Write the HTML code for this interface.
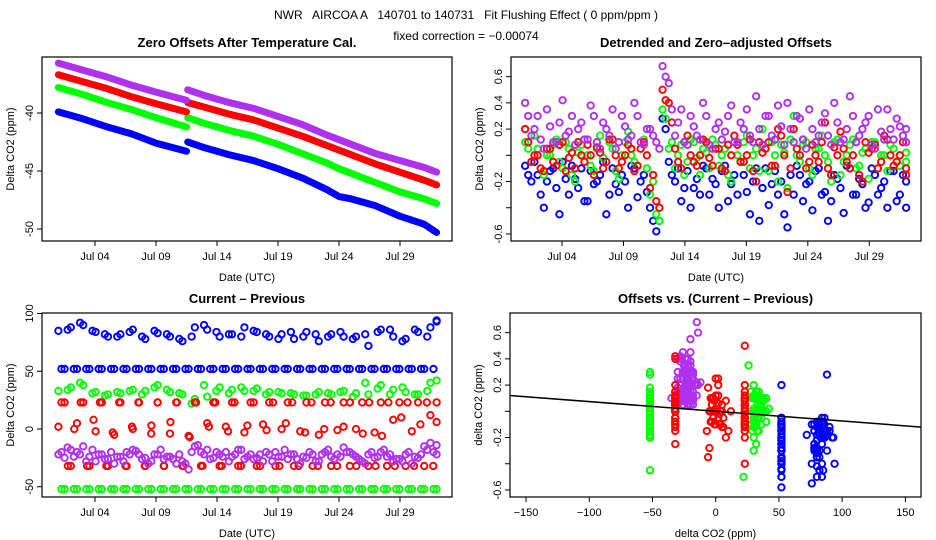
<!DOCTYPE html>
<html><head><meta charset="utf-8"><style>
body{margin:0;background:#fff}
svg{display:block;font-family:"Liberation Sans",sans-serif}
.t{font-size:11px;fill:#000}
.pt{font-size:13px;font-weight:bold;fill:#000}
</style></head><body>
<svg id="c" width="936" height="540">
<rect width="936" height="540" fill="#fff"/>
<text x="466" y="19" text-anchor="middle" style="font-size:12px;white-space:pre" xml:space="preserve">NWR   AIRCOA A   140701 to 140731   Fit Flushing Effect ( 0 ppm/ppm )</text>
<text x="466" y="40" text-anchor="middle" style="font-size:12px">fixed correction = −0.00074</text>
</svg>
<script>
const dateTicks=["Jul 04","Jul 09","Jul 14","Jul 19","Jul 24","Jul 29"];
const dateTickDays=[3,8,13,18,23,28];
const tlTimes=[0,2,4,6,8,10.5,10.6,12,14,16,18,20,22,23,24,26,28,30,31];
const tlPurple=[-35.7,-36.3,-36.9,-37.6,-38.2,-38.9,-38.0,-38.5,-39.1,-39.6,-40.3,-41.0,-41.9,-42.3,-42.7,-43.5,-44.1,-44.7,-45.1];
const tlRed=[-36.7,-37.3,-37.9,-38.6,-39.2,-39.9,-39.1,-39.5,-40.1,-40.6,-41.3,-42.0,-42.8,-43.2,-43.6,-44.4,-45.1,-45.8,-46.2];
const tlGreen=[-37.8,-38.4,-39.1,-39.7,-40.4,-41.2,-40.4,-40.9,-41.5,-42.0,-42.7,-43.5,-44.3,-44.8,-45.2,-46.0,-46.8,-47.4,-47.8];
const tlBlue=[-39.9,-40.5,-41.2,-41.8,-42.6,-43.3,-42.5,-43.0,-43.6,-44.1,-44.8,-45.6,-46.6,-47.2,-47.4,-48.0,-48.9,-49.6,-50.3];
const trBlue=[-0.08,-0.2,-0.15,-0.4,-0.12,-0.25,-0.05,-0.3,-0.18,-0.1,-0.35,-0.22,-0.15,-0.45,-0.1,-0.28,-0.2,-0.08,-0.32,-0.15,-0.4,-0.58,0.28,-0.05,-0.2,-0.35,-0.12,-0.25,-0.3,-0.1,-0.18,-0.4,-0.08,-0.22,-0.3,-0.15,-0.45,-0.1,-0.25,-0.38,-0.12,-0.2,-0.55,-0.3,-0.15,-0.22,-0.42,-0.1,-0.28,-0.35,-0.18,-0.44,-0.1,-0.3,-0.22,-0.36,-0.15,-0.25,-0.4,-0.12,-0.3,-0.2];
const trBlueB=[-0.15,-0.05,-0.3,-0.2,-0.1,-0.45,-0.18,-0.08,-0.25,-0.35,-0.12,-0.2,-0.05,-0.3,-0.22,-0.15,-0.4,-0.1,-0.2,-0.28,-0.5,-0.5,0.2,-0.15,-0.1,-0.25,-0.4,-0.18,-0.08,-0.3,-0.22,-0.12,-0.35,-0.15,-0.05,-0.28,-0.2,-0.5,-0.1,-0.22,-0.3,-0.45,-0.15,-0.08,-0.35,-0.2,-0.12,-0.3,-0.5,-0.15,-0.25,-0.08,-0.3,-0.18,-0.4,-0.1,-0.3,-0.2,-0.12,-0.35,-0.15,-0.4];
const trGreen=[0.1,-0.05,0.05,-0.15,0.0,0.12,-0.1,0.05,-0.2,0.08,0.0,-0.12,0.15,-0.05,0.05,-0.18,0.1,0.0,-0.08,0.12,-0.3,-0.45,0.35,0.05,-0.1,0.08,-0.05,0.1,-0.15,0.02,0.12,-0.08,0.05,-0.2,0.0,0.1,-0.1,0.05,0.2,-0.12,0.0,0.08,-0.25,0.3,-0.05,0.1,-0.15,0.05,0.0,-0.2,0.12,-0.05,0.08,-0.1,0.02,-0.18,0.1,0.0,-0.12,0.05,-0.08,-0.05];
const trGreenB=[0.05,0.15,-0.1,0.0,0.08,-0.05,0.1,-0.15,0.02,0.12,-0.08,0.05,-0.02,0.1,-0.12,0.0,0.18,-0.05,0.05,-0.1,-0.2,-0.5,0.28,0.1,0.0,-0.15,0.12,-0.02,0.05,-0.1,0.08,0.0,-0.15,0.1,-0.05,0.15,0.0,-0.12,0.05,0.1,-0.2,0.02,0.12,0.0,0.08,-0.1,0.05,0.15,-0.05,0.1,-0.15,0.0,0.12,-0.08,0.05,0.1,-0.1,0.0,0.08,-0.05,0.15,0.02];
const trRed=[0.2,-0.05,0.0,-0.12,0.05,-0.08,0.1,-0.02,-0.1,0.0,0.08,-0.15,0.02,-0.05,0.12,-0.1,0.0,0.05,-0.08,0.1,-0.25,-0.35,0.5,0.4,0.05,-0.1,0.15,-0.05,0.0,0.1,-0.08,0.05,-0.12,0.0,0.08,-0.05,0.12,-0.2,0.02,0.1,-0.08,0.15,-0.28,0.2,0.0,-0.1,0.08,-0.05,0.25,-0.15,0.0,0.05,-0.1,0.1,-0.2,0.02,0.08,-0.05,0.12,-0.08,0.0,-0.15];
const trRedB=[0.1,0.0,-0.1,0.05,-0.05,0.08,-0.12,0.02,0.1,-0.05,0.0,0.06,-0.1,0.12,0.0,-0.05,0.08,-0.12,0.05,0.0,-0.15,-0.4,0.42,0.25,-0.05,0.1,0.0,-0.08,0.12,-0.02,0.05,-0.1,0.08,0.15,-0.05,0.0,-0.12,0.1,0.05,-0.08,0.2,0.0,-0.1,0.05,0.12,-0.05,0.0,0.1,-0.1,0.06,0.18,-0.05,0.0,-0.15,0.1,0.05,-0.1,0.15,0.0,-0.05,0.1,-0.1];
const trPurple=[0.4,0.15,0.3,0.05,0.22,0.1,0.42,0.18,0.08,0.25,0.12,0.3,0.05,0.2,0.35,0.1,0.22,0.15,0.3,0.08,0.2,0.1,0.68,0.55,0.15,0.35,0.08,0.22,0.12,0.3,0.05,0.25,0.18,0.38,0.1,0.2,0.15,0.45,0.08,0.3,0.12,0.22,0.4,0.1,0.28,0.05,0.2,0.15,0.32,0.08,0.25,0.12,0.45,0.1,0.2,0.3,0.05,0.18,0.35,0.12,0.22,0.1];
const trPurpleB=[0.3,0.2,0.12,0.35,0.1,0.25,0.15,0.3,0.2,0.12,0.38,0.1,0.25,0.15,0.05,0.3,0.12,0.4,0.1,0.2,0.15,0.05,0.6,0.35,0.25,0.1,0.3,0.15,0.4,0.08,0.2,0.12,0.3,0.1,0.25,0.35,0.1,0.2,0.3,0.15,0.38,0.08,0.2,0.3,0.12,0.35,0.1,0.25,0.15,0.4,0.1,0.2,0.3,0.15,0.25,0.08,0.35,0.12,0.2,0.28,0.15,0.2];
const cpBlue=[85,52,88,52,90,52,84,52,80,52,82,52,86,52,78,52,83,52,80,52,76,52,88,52,86,52,80,52,82,52,88,52,84,52,80,52,82,52,78,52,84,52,76,52,82,52,80,52,80,52,72,52,86,52,80,52,78,52,84,52,88,93];
const cpBlueB=[52,86,52,92,52,85,52,82,52,80,52,84,52,80,52,85,52,82,52,78,52,80,52,90,52,84,52,82,52,80,52,85,52,82,52,78,52,84,52,80,52,82,52,80,52,84,52,78,52,82,52,84,52,86,52,76,52,86,52,80,52,94];
const cpGreen=[33,-52,36,-52,38,-52,32,-52,30,-52,31,-52,34,-52,33,-52,38,-52,32,-52,30,-52,26,-52,28,-52,36,-52,34,-52,33,-52,35,-52,32,-52,31,-52,30,-52,29,-52,32,-52,30,-52,33,-52,31,-52,30,-52,38,-52,34,-52,32,-52,30,-52,40,-52];
const cpGreenB=[-52,34,-52,40,-52,31,-52,29,-52,32,-52,33,-52,30,-52,36,-52,34,-52,31,-52,22,-52,38,-52,33,-52,31,-52,36,-52,33,-52,30,-52,32,-52,31,-52,29,-52,30,-52,31,-52,32,-52,28,-52,40,-52,35,-52,30,-52,36,-52,30,-52,33,-52,42];
const cpRed=[2,23,-32,5,23,-32,-2,23,-32,-5,23,-32,0,23,-32,3,23,-32,-4,23,-32,-6,23,-32,5,23,-32,2,23,-32,-3,23,-32,4,23,-32,0,23,-32,-2,23,-32,-5,23,-32,-1,23,-32,0,23,-32,-3,23,-32,8,23,-32,-2,23,-32,12,23];
const cpRedB=[23,-32,0,23,-32,8,23,-32,-3,23,-32,2,23,-32,-4,23,-32,6,23,-32,-7,23,-32,2,23,-32,-2,23,-32,3,23,-32,-1,23,-32,5,23,-32,-3,23,-32,0,23,-32,2,23,-32,-4,23,-32,-6,23,-32,10,23,-32,4,23,-32,6];
const cpPurple=[-22,-25,-18,-20,-15,-24,-28,-22,-26,-30,-24,-20,-18,-22,-25,-28,-22,-26,-24,-30,-28,-35,-15,-20,-18,-25,-22,-20,-24,-18,-26,-22,-25,-28,-22,-20,-24,-26,-22,-30,-25,-22,-28,-20,-24,-22,-16,-20,-24,-28,-22,-25,-20,-24,-28,-26,-22,-30,-25,-15,-12,-22];
const cpPurpleB=[-20,-16,-24,-22,-28,-18,-22,-26,-20,-24,-28,-22,-19,-26,-30,-22,-18,-24,-26,-22,-30,-20,-14,-22,-26,-20,-24,-28,-22,-18,-24,-26,-22,-20,-28,-24,-18,-22,-26,-24,-20,-28,-22,-18,-26,-24,-20,-22,-26,-30,-20,-24,-18,-22,-26,-28,-20,-24,-22,-18,-20,-14];
const fitSlope=-0.00074, fitIntercept=0;
const tlYTicks=[-40,-45,-50];
const offYTicks=[0.6,0.4,0.2,0,-0.2,-0.4,-0.6];
const offYLabels=["0.6","0.4","0.2","","-0.2","","-0.6"];
const blYTicks=[100,50,0,-50];
const brXTicks=[-150,-100,-50,0,50,100,150];

const NS="http://www.w3.org/2000/svg";
const svg=document.getElementById('c');
function el(tag,attrs,parent){const e=document.createElementNS(NS,tag);for(const k in attrs)e.setAttribute(k,attrs[k]);(parent||svg).appendChild(e);return e;}
const COL={blue:"#0000ff",green:"#00ff00",red:"#ff0000",purple:"#b030f0"};

function panel(name,box,title,xlab,ylab){
  const g=el('g',{});
  
  
  const r=el('rect',{x:box.l,y:box.t,width:box.r-box.l,height:box.b-box.t,fill:"none",stroke:"#000","stroke-width":1.2},g);
  
  const tt=el('text',{x:(box.l+box.r)/2,y:box.t-10,"text-anchor":"middle",class:"pt"},g);tt.textContent=title;
  
  const xt=el('text',{x:(box.l+box.r)/2,y:box.t===57?box.b+40:box.b+40,"text-anchor":"middle",class:"t"},g);xt.textContent=xlab;
  
  const yt=el('text',{x:0,y:0,"text-anchor":"middle",class:"t",transform:`translate(${box.l-28},${(box.t+box.b)/2}) rotate(-90)`},g);yt.textContent=ylab;
  
  return g;
}
function yAxis(g,box,ticks,labels,ys){
  ticks.forEach((v,i)=>{const y=ys(v);
    el('line',{x1:box.l-5,x2:box.l,y1:y,y2:y,stroke:"#000"},g);
    const lab=labels?labels[i]:String(v);
    if(lab){const t=el('text',{x:0,y:0,"text-anchor":"middle",class:"t",transform:`translate(${box.l-9},${y}) rotate(-90)`},g);t.textContent=lab;
    }
  });
}
function xAxis(g,box,ticks,labels,xs){
  ticks.forEach((v,i)=>{const x=xs(v);
    el('line',{x1:x,x2:x,y1:box.b,y2:box.b+5,stroke:"#000"},g);
    const t=el('text',{x:x,y:box.b+19,"text-anchor":"middle",class:"t"},g);t.textContent=labels[i];
    
  });
}
function circ(g,x,y,c){return el('circle',{cx:x,cy:y,r:3.2,fill:"none",stroke:c,"stroke-width":1.9},g);}
function tOf(i,n,off){return Math.min(31,i*31/(n-1)+off);}

// ---- top-left
const B1={l:42,r:452,t:57,b:241};
const x1=t=>95+(t-3)*12.2, y1=v=>113-(v+40)*11.6;
const g1=panel('zero-offsets-panel',B1,'Zero Offsets After Temperature Cal.','Date (UTC)','Delta CO2 (ppm)');
xAxis(g1,B1,dateTickDays,dateTicks,x1);yAxis(g1,B1,tlYTicks,null,y1);
[[tlBlue,'blue'],[tlGreen,'green'],[tlRed,'red'],[tlPurple,'purple']].forEach(([arr,c])=>{
  [[0,6],[6,tlTimes.length]].forEach(([a,b])=>{
    const pts=[];for(let i=a;i<b;i++)pts.push(x1(tlTimes[i])+','+y1(arr[i]));
    const p=el('polyline',{points:pts.join(' '),fill:"none",stroke:COL[c],"stroke-width":7,"stroke-linecap":"round","stroke-linejoin":"round"},g1);
    
  });
});

const TR=[[trBlue,trBlueB,'blue'],[trGreen,trGreenB,'green'],[trRed,trRedB,'red'],[trPurple,trPurpleB,'purple']];
const CP=[[cpBlue,cpBlueB,'blue'],[cpGreen,cpGreenB,'green'],[cpRed,cpRedB,'red'],[cpPurple,cpPurpleB,'purple']];

// ---- top-right
const B2={l:511,r:921,t:57,b:241};
const x2=t=>562+(t-3)*12.29, y2=v=>155.3-v*131.1;
const g2=panel('detrended-offsets-panel',B2,'Detrended and Zero\u2013adjusted Offsets','Date (UTC)','Delta CO2 (ppm)');
xAxis(g2,B2,dateTickDays,dateTicks,x2);yAxis(g2,B2,offYTicks,offYLabels,y2);
TR.forEach(([a,b,c])=>{
  [[a,0],[b,0.25]].forEach(([arr,off])=>arr.forEach((v,i)=>{const e=circ(g2,x2(tOf(i,arr.length,off)),y2(v),COL[c]);
    }));
});

// ---- bottom-left
const B3={l:42,r:452,t:313,b:497};
const x3=t=>95+(t-3)*12.2, y3=v=>429-v*1.155;
const g3=panel('current-minus-previous-panel',B3,'Current \u2013 Previous','Date (UTC)','Delta CO2 (ppm)');
xAxis(g3,B3,dateTickDays,dateTicks,x3);yAxis(g3,B3,blYTicks,null,y3);
CP.forEach(([a,b,c])=>{
  [[a,0],[b,0.25]].forEach(([arr,off])=>arr.forEach((v,i)=>{const e=circ(g3,x3(tOf(i,arr.length,off)),y3(v),COL[c]);
    }));
});

// ---- bottom-right
const B4={l:510,r:921,t:313,b:497};
const x4=v=>715.7+v*1.2645, y4=v=>411.3-v*131.1;
const g4=panel('offsets-vs-difference-panel',B4,'Offsets vs. (Current \u2013 Previous)','delta CO2 (ppm)','delta CO2 (ppm)');
xAxis(g4,B4,brXTicks,brXTicks.map(String).map(s=>s.replace('-','\u2212')),x4);yAxis(g4,B4,offYTicks,offYLabels,y4);
[1,3,2,0].forEach(k=>{
  const [ca,cb,c]=CP[k], [ta,tb]=TR[k];
  [[ca,ta],[cb,tb]].forEach(([xa,ya])=>{
    const n=Math.min(xa.length,ya.length);
    for(let i=0;i<n;i++){const e=circ(g4,x4(xa[i]),y4(ya[i]),COL[c]);
      }
  });
});
const xmin=-163,xmax=162.5;
const fl=el('line',{x1:x4(xmin),y1:y4(fitIntercept+fitSlope*xmin),x2:x4(xmax),y2:y4(fitIntercept+fitSlope*xmax),stroke:"#000","stroke-width":1.5},g4);

</script>
</body></html>
